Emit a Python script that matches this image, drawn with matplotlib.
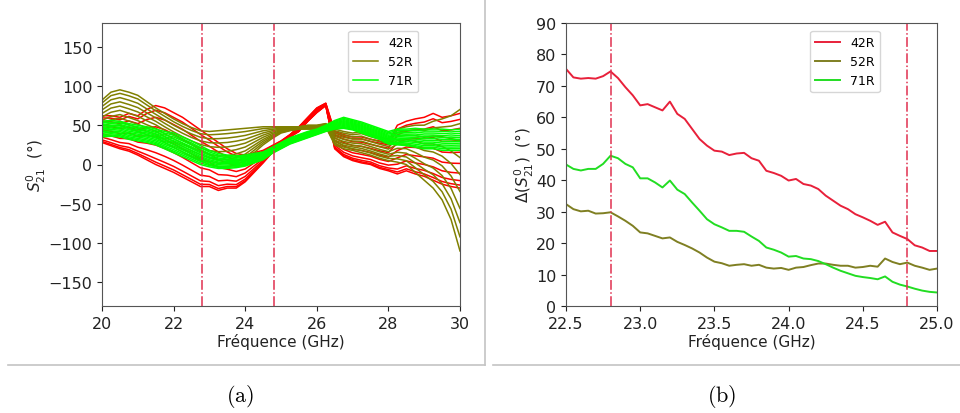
import numpy as np
import matplotlib
matplotlib.use('Agg')
import matplotlib.pyplot as plt
from matplotlib.lines import Line2D

plt.rcParams['mathtext.fontset'] = 'dejavusans'

# ---- panel (a): envelopes of the S21 phase bundles, every 0.25 GHz ----
freq_a = [20 + 0.25 * i for i in range(41)]

r42_low = [28, 24, 20, 17, 12, 6, 0, -5, -10, -16, -22, -28, -28, -33, -30, -30, -22, -10, 2, 15,
           25, 35, 42, 55, 66, 75, 20, 10, 5, 2, 0, -5, -8, -12, -8, -12, -15, -20, -25, -28, -30]
r42_high = [62, 62, 60, 65, 62, 70, 75, 72, 66, 60, 52, 44, 36, 28, 20, 14, 12, 15, 18, 24,
            30, 38, 48, 60, 72, 78, 42, 38, 35, 35, 32, 30, 28, 50, 55, 58, 60, 65, 60, 62, 65]
r52_low = [45, 48, 50, 46, 42, 38, 35, 28, 22, 16, 10, 5, 0, -3, -3, 0, 5, 15, 25, 33,
           40, 43, 45, 45, 45, 48, 25, 20, 18, 15, 12, 8, 5, 3, 0, -10, -20, -30, -45, -70, -110]
r52_high = [82, 92, 95, 92, 88, 80, 72, 65, 58, 52, 47, 43, 42, 43, 44, 45, 46, 47, 48, 48,
            48, 48, 48, 50, 50, 52, 45, 42, 40, 42, 38, 35, 32, 45, 48, 50, 50, 55, 58, 62, 70]
r71_low = [35, 36, 35, 32, 30, 28, 25, 20, 15, 10, 5, 0, -3, -5, -5, -4, -2, 2, 6, 14,
           20, 26, 30, 34, 38, 42, 45, 46, 44, 40, 36, 32, 26, 25, 24, 22, 20, 20, 18, 18, 18]
r71_high = [55, 56, 55, 52, 50, 48, 45, 42, 40, 35, 30, 24, 18, 14, 12, 11, 12, 14, 16, 22,
            28, 34, 38, 42, 45, 50, 56, 60, 57, 54, 50, 46, 42, 45, 45, 46, 45, 45, 45, 44, 45]

# relative position of each measured curve inside its bundle
pos_42 = [0, 0.04, 0.1, 0.2, 0.33, 0.48, 0.64, 0.8, 0.92, 1.0]
pos_52 = [0, 0.1, 0.2, 0.3, 0.42, 0.54, 0.66, 0.78, 0.9, 1.0]
pos_71 = [0, 0.08, 0.16, 0.25, 0.34, 0.43, 0.52, 0.61, 0.7, 0.8, 0.9, 1.0]

# ---- panel (b): phase excursion, every 0.05 GHz ----
freq_b = [22.5 + 0.05 * i for i in range(51)]
d42 = [75.4, 72.7, 72.3, 72.5, 72.3, 73.1, 74.6, 72.5, 69.6, 67.0, 63.8, 64.2, 63.2, 62.2, 65.0,
       61.1, 59.5, 56.3, 53.1, 51.0, 49.4, 49.1, 48.0, 48.5, 48.7, 47.0, 46.2, 43.0, 42.3, 41.4,
       39.9, 40.4, 38.8, 38.3, 37.2, 35.1, 33.5, 31.9, 30.8, 29.2, 28.2, 27.1, 25.8, 26.8, 23.4,
       22.3, 21.3, 19.3, 18.6, 17.5, 17.5]
d52 = [32.4, 30.8, 30.1, 30.3, 29.4, 29.5, 29.8, 28.5, 27.1, 25.5, 23.4, 23.1, 22.3, 21.5, 21.8,
       20.4, 19.4, 18.3, 17.0, 15.4, 14.1, 13.6, 12.8, 13.1, 13.3, 12.8, 13.1, 12.2, 11.9, 12.1,
       11.5, 12.2, 12.4, 13.0, 13.5, 13.5, 13.1, 12.8, 12.8, 12.2, 12.4, 12.8, 12.5, 15.1, 14.0,
       13.3, 13.8, 12.8, 12.2, 11.5, 11.9]
d71 = [45.0, 43.6, 43.1, 43.6, 43.6, 45.2, 47.8, 47.0, 45.2, 44.1, 40.6, 40.6, 39.3, 37.7, 39.9,
       37.0, 35.6, 32.9, 30.3, 27.6, 26.0, 25.0, 23.9, 23.9, 23.6, 22.1, 20.7, 18.6, 17.9, 17.0,
       15.7, 15.9, 15.1, 14.9, 14.3, 13.3, 12.2, 11.2, 10.4, 9.6, 9.2, 8.9, 8.5, 9.4, 7.7,
       6.8, 6.2, 5.5, 4.9, 4.5, 4.3]

markers_f = [22.8, 24.8]

fig = plt.figure(figsize=(9.6, 4.14), dpi=100)

# frame lines around the two sub-figures
fig.add_artist(Line2D([485 / 960, 485 / 960], [1, 1 - 366 / 414], color='#c4c4c4', lw=1.2))
fig.add_artist(Line2D([8 / 960, 485 / 960], [1 - 366 / 414] * 2, color='#c4c4c4', lw=1.2))
fig.add_artist(Line2D([493 / 960, 1], [1 - 366 / 414] * 2, color='#c4c4c4', lw=1.2))

tick_kw = dict(labelsize=11.5, colors='#222222')

# ---------- (a) ----------
ax1 = fig.add_axes([102 / 960, 1 - 307 / 414, 358 / 960, 283 / 414])
fa = np.array(freq_a)
for low, high, pos, col, lab in [(r42_low, r42_high, pos_42, 'red', '42R'),
                                 (r52_low, r52_high, pos_52, 'olive', '52R'),
                                 (r71_low, r71_high, pos_71, 'lime', '71R')]:
    low = np.array(low)
    high = np.array(high)
    for k, p in enumerate(pos):
        ax1.plot(fa, low + p * (high - low), color=col, lw=1.1,
                 label=lab if k == 0 else None)
for f in markers_f:
    ax1.axvline(f, color='#e03050', ls='-.', lw=1.1)
ax1.set_xlim(20, 30)
ax1.set_ylim(-180, 180)
ax1.set_xticks([20, 22, 24, 26, 28, 30])
ax1.set_yticks([-150, -100, -50, 0, 50, 100, 150])
ax1.tick_params(**tick_kw)
ax1.set_xlabel('Fréquence (GHz)', fontsize=11, color='#222222', labelpad=2)
ax1.set_ylabel(r'$S_{21}^{0}$  (°)', fontsize=11, color='#222222', labelpad=0)
ax1.legend(loc='upper right', bbox_to_anchor=(0.883, 0.972), borderaxespad=0,
           fontsize=9, framealpha=0.8)

# ---------- (b) ----------
ax2 = fig.add_axes([566 / 960, 1 - 307 / 414, 371 / 960, 283 / 414])
ax2.plot(freq_b, d42, color='#e8203a', lw=1.4, label='42R')
ax2.plot(freq_b, d52, color='#7f7f22', lw=1.4, label='52R')
ax2.plot(freq_b, d71, color='#22dd22', lw=1.4, label='71R')
for f in markers_f:
    ax2.axvline(f, color='#e03050', ls='-.', lw=1.1)
ax2.set_xlim(22.5, 25.0)
ax2.set_ylim(0, 90)
ax2.set_xticks([22.5, 23.0, 23.5, 24.0, 24.5, 25.0])
ax2.set_xticklabels(['22.5', '23.0', '23.5', '24.0', '24.5', '25.0'])
ax2.set_yticks(range(0, 91, 10))
ax2.tick_params(**tick_kw)
ax2.set_xlabel('Fréquence (GHz)', fontsize=11, color='#222222', labelpad=2)
ax2.set_ylabel(r'$\Delta(S_{21}^{0})$  (°)', fontsize=11, color='#222222', labelpad=0)
ax2.legend(loc='upper right', bbox_to_anchor=(0.846, 0.972), borderaxespad=0,
           fontsize=9, framealpha=0.8)

for ax in (ax1, ax2):
    for s in ax.spines.values():
        s.set_color('#555555')

# captions
fig.text(240 / 960, 1 - 397 / 414, r'$(\mathrm{a})$', ha='center', va='center',
         fontsize=16, math_fontfamily='cm')
fig.text(722 / 960, 1 - 397 / 414, r'$(\mathrm{b})$', ha='center', va='center',
         fontsize=16, math_fontfamily='cm')

fig.savefig('out.png', dpi=100, facecolor='white')
